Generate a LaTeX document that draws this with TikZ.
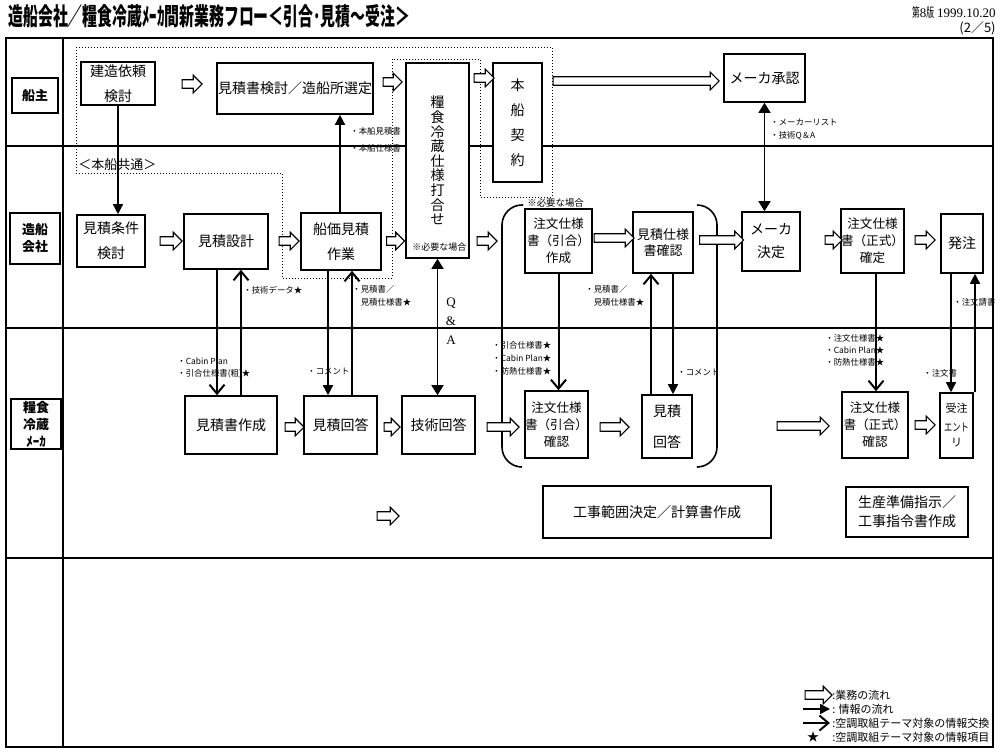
\documentclass[tikz,border=0pt]{standalone}
\usepackage{fontspec}
\setmainfont{Noto Sans CJK JP}
\newfontfamily\qafont{Liberation Serif}
\usetikzlibrary{arrows.meta,positioning,calc,shapes.arrows}
\tikzset{
  flowbox/.style={draw,line width=0.8pt,fill=white,align=center,inner sep=0pt,
    font=\fontsize{7}{10}\selectfont},
  lanebox/.style={draw,line width=0.8pt,fill=white,align=center,inner sep=0pt,
    font=\bfseries\fontsize{6.5}{8.5}\selectfont},
  flowarrow/.style={single arrow,draw,line width=0.6pt,fill=white,inner xsep=0pt,
    inner ysep=1.8pt,single arrow head extend=2.3pt},
  infoarrow/.style={line width=0.75pt,-{Triangle[length=5pt,width=5pt]}},
  infoboth/.style={line width=0.75pt,{Triangle[length=5pt,width=6pt]}-{Triangle[length=5pt,width=6pt]}},
  themearrow/.style={line width=1pt,-{Straight Barb[length=4.5pt,width=7.5pt]}},
  note/.style={anchor=west,align=left,inner sep=0pt,font=\fontsize{4.2}{6.5}\selectfont},
  lanerule/.style={line width=0.9pt}
}

\begin{document}
\begin{tikzpicture}[x=0.5pt,y=-0.5pt]
  \useasboundingbox (0,0) rectangle (1000,751);

  % heading
  \node[anchor=west,inner sep=0pt,font=\bfseries\fontsize{12.2}{14}\selectfont] (title) at (8,16)
    {\scalebox{0.61}[1]{造船会社／糧食冷蔵ﾒｰｶ間新業務フロー＜引合･見積～受注＞}};
  \node[anchor=east,inner sep=0pt,font=\fontsize{6.5}{8}\selectfont] (version) at (996,13)
    {\scalebox{0.6}[1]{第}{\qafont 8}\scalebox{0.6}[1]{版} {\qafont 1999.10.20}};
  \node[anchor=east,inner sep=0pt,font=\fontsize{6.5}{8}\selectfont] (page) at (996,28) {(2／5)};

  % lanes
  \draw[lanerule] (6,38) rectangle (993,747);
  \draw[lanerule] (63,38) -- (63,747);
  \draw[lanerule] (6,146) -- (993,146);
  \draw[lanerule] (6,328) -- (993,328);
  \draw[lanerule] (6,558) -- (993,558);
  \node[lanebox,minimum width=23pt,minimum height=17.5pt] (owner) at (35,95.5) {船主};
  \node[lanebox,minimum width=25pt,minimum height=25.5pt] (yard) at (35,238.5) {造船\\会社};
  \node[lanebox,minimum width=25pt,minimum height=25pt] (maker) at (36,424) {糧食\\冷蔵\\ﾒｰｶ};

  % common area and bracket
  \draw[densely dotted,line width=0.5pt] (76,47) -- (552,47) -- (552,197) -- (480,197)
    -- (480,59) -- (392,59) -- (392,278) -- (282,278) -- (282,173) -- (76,173) -- cycle;
  \node[note,font=\fontsize{6.5}{8}\selectfont] (common) at (78,165) {＜本船共通＞};
  \draw[line width=0.8pt,rounded corners=10pt] (523,205) -- (502,205) -- (502,467) -- (522,467);
  \draw[line width=0.8pt,rounded corners=10pt] (697,205) -- (717,205) -- (717,467) -- (698,467);

  % owner
  \node[flowbox,minimum width=37pt,minimum height=21.5pt] (kenzo) at (118,83.5) {建造依頼\\[2.5pt]検討};
  \node[flowbox,minimum width=78pt,minimum height=25.5pt] (mkentei) at (295,88.5) {見積書検討／造船所選定};
  \node[flowbox,minimum width=31.5pt,minimum height=97.5pt,font=\fontsize{7}{7.3}\selectfont] (uchiawase) at (437.5,160.5)
    {糧\\食\\冷\\蔵\\仕\\様\\打\\合\\せ};
  \node[flowbox,minimum width=24.5pt,minimum height=59.5pt,font=\fontsize{7}{12.5}\selectfont] (honsen) at (517.5,122.5)
    {本\\船\\契\\約};
  \node[flowbox,minimum width=40.5pt,minimum height=24pt] (shonin) at (764.5,78) {メーカ承認};

  % shipyard
  \node[flowbox,minimum width=34pt,minimum height=26pt] (joken) at (111,241) {見積条件\\[2.5pt]検討};
  \node[flowbox,minimum width=42pt,minimum height=27.5pt] (sekkei) at (226,241.5) {見積設計};
  \node[flowbox,minimum width=40pt,minimum height=28.5pt] (senka) at (341,241.5) {船価見積\\[2.5pt]作業};
  \node[flowbox,minimum width=33.5pt,minimum height=32pt,font=\fontsize{6.3}{8.5}\selectfont] (hsakusei) at (558.5,241)
    {注文仕様\\書（引合）\\作成};
  \node[flowbox,minimum width=30pt,minimum height=30.5pt,font=\fontsize{6.5}{8.3}\selectfont] (mkakunin) at (663,242.5)
    {見積仕様\\書確認};
  \node[flowbox,minimum width=29pt,minimum height=29.5pt] (kettei) at (771,241.5) {メーカ\\[1.5pt]決定};
  \node[flowbox,minimum width=30.5pt,minimum height=32pt,font=\fontsize{6.3}{8.5}\selectfont] (skakutei) at (872.5,241)
    {注文仕様\\書（正式）\\確定};
  \node[flowbox,minimum width=21pt,minimum height=29.5pt] (hatchu) at (962,243.5) {発注};

  % maker
  \node[flowbox,minimum width=46pt,minimum height=29pt] (msakusei) at (231,425) {見積書作成};
  \node[flowbox,minimum width=36.5pt,minimum height=29pt] (kaito) at (340.5,425) {見積回答};
  \node[flowbox,minimum width=36.5pt,minimum height=29pt] (gkaito) at (438.5,425) {技術回答};
  \node[flowbox,minimum width=30.5pt,minimum height=33.5pt,font=\fontsize{6.3}{8.5}\selectfont] (hkakunin) at (556.5,424.5)
    {注文仕様\\書（引合）\\確認};
  \node[flowbox,minimum width=25pt,minimum height=31.5pt] (mkaito) at (667,426.5) {見積\\[5.5pt]回答};
  \node[flowbox,minimum width=33pt,minimum height=33pt,font=\fontsize{6.3}{8.5}\selectfont] (skakunin) at (875,425)
    {注文仕様\\書（正式）\\確認};
  \node[flowbox,minimum width=16.5pt,minimum height=32.5pt,font=\fontsize{5.5}{7.5}\selectfont] (juchu) at (956.5,425.5)
    {受注\\[2pt]\scalebox{0.75}[1]{エント}\\リ};
  \node[flowbox,minimum width=114pt,minimum height=26pt] (koji) at (657,512) {工事範囲決定／計算書作成};
  \node[flowbox,minimum width=61pt,minimum height=25pt,font=\fontsize{7}{9.5}\selectfont] (seisan) at (907,512)
    {生産準備指示／\\工事指令書作成};

  % work flow
  \node[flowarrow,minimum height=10pt] (f1) at (190,84) {};
  \node[flowarrow,minimum height=9.5pt] (f2) at (390.5,82) {};
  \node[flowarrow,minimum height=10pt] (f3) at (482,78) {};
  \node[flowarrow,minimum height=83pt] (f4) at (634,81) {};
  \node[flowarrow,minimum height=11pt] (f5) at (169,241) {};
  \node[flowarrow,minimum height=10pt] (f6) at (287,241) {};
  \node[flowarrow,minimum height=9pt] (f7) at (393.5,241) {};
  \node[flowarrow,minimum height=10pt] (f8) at (485,241) {};
  \node[flowarrow,minimum height=20pt] (f9) at (612,238) {};
  \node[flowarrow,minimum height=22pt] (f10) at (719.5,240) {};
  \node[flowarrow,minimum height=8.5pt] (f11) at (831.5,240) {};
  \node[flowarrow,minimum height=10pt] (f12) at (923,240) {};
  \node[flowarrow,minimum height=9.5pt] (f13) at (292.5,427) {};
  \node[flowarrow,minimum height=8pt] (f14) at (390,427) {};
  \node[flowarrow,minimum height=16pt] (f15) at (501,427) {};
  \node[flowarrow,minimum height=14.5pt] (f16) at (612.5,427) {};
  \node[flowarrow,minimum height=26pt] (f17) at (801,426) {};
  \node[flowarrow,minimum height=10pt] (f18) at (923,425) {};
  \node[flowarrow,minimum height=11pt] (f19) at (386,516) {};

  % information flow
  \coordinate (x217) at (217,0);
  \coordinate (x241) at (241,0);
  \coordinate (x328) at (328,0);
  \coordinate (x340) at (340,0);
  \coordinate (x352) at (352,0);
  \coordinate (x651) at (651,0);
  \coordinate (x673) at (673,0);
  \coordinate (x876) at (876,0);
  \coordinate (x951) at (951,0);
  \coordinate (x975) at (975,0);
  \draw[infoarrow] (kenzo.south) -- (kenzo.south |- joken.north);
  \draw[themearrow] (sekkei.south -| x217) -- (msakusei.north -| x217);
  \draw[themearrow] (msakusei.north -| x241) -- (sekkei.south -| x241);
  \draw[infoarrow] (senka.north -| x340) -- (mkentei.south -| x340);
  \draw[infoarrow] (senka.south -| x328) -- (kaito.north -| x328);
  \draw[themearrow] (kaito.north -| x352) -- (senka.south -| x352);
  \draw[infoboth] (uchiawase.south) -- (uchiawase.south |- gkaito.north);
  \draw[infoboth] (shonin.south) -- (shonin.south |- kettei.north);
  \draw[themearrow] (hsakusei.south) -- (hsakusei.south |- hkakunin.north);
  \draw[themearrow] (mkaito.north -| x651) -- (mkakunin.south -| x651);
  \draw[infoarrow] (mkakunin.south -| x673) -- (mkaito.north -| x673);
  \draw[themearrow] (skakutei.south -| x876) -- (skakunin.north -| x876);
  \draw[infoarrow] (hatchu.south -| x951) -- (juchu.north -| x951);
  \draw[infoarrow] (juchu.north -| x975) -- (hatchu.south -| x975);

  % items
  \node[note] (n1) at (770,129.5) {・メーカーリスト\\・技術Q＆A};
  \node[note,font=\fontsize{4.2}{8.5}\selectfont] (n2) at (350,139.5) {・本船見積書\\・本船仕様書};
  \node[note] (n3) at (243,290) {・技術データ★};
  \node[note] (n4) at (352,296) {・見積書／\\\hphantom{・}見積仕様書★};
  \node[note] (n5) at (585,296) {・見積書／\\\hphantom{・}見積仕様書★};
  \node[note,font=\fontsize{4.2}{6}\selectfont] (n6) at (177,368) {・Cabin Plan\\・引合仕様書(粗)★};
  \node[note] (n7) at (307,371) {・コメント};
  \node[note] (n8) at (492,358) {・引合仕様書★\\・Cabin Plan★\\・防熱仕様書★};
  \node[note] (n9) at (677,372) {・コメント};
  \node[note,font=\fontsize{4.2}{6}\selectfont] (n10) at (825,350) {・注文仕様書★\\・Cabin Plan★\\・防熱仕様書★};
  \node[note] (n11) at (923,373) {・注文書};
  \node[note] (n12) at (953,302) {・注文請書};
  \node[note,font=\fontsize{4.7}{6}\selectfont] (n13) at (527,203) {※必要な場合};
  \node[note,font=\fontsize{4.5}{6}\selectfont] (n14) at (412,247) {※必要な場合};
  \node[align=center,inner sep=0pt,font=\qafont\fontsize{6.5}{9.5}\selectfont] (qa) at (451,321) {Q\\\&\\A};

  % legend
  \node[flowarrow,minimum height=13.5pt] (lg1) at (816.5,695) {};
  \coordinate (lg2a) at (803,709);
  \coordinate (lg2b) at (830,709);
  \coordinate (lg3a) at (803,723);
  \coordinate (lg3b) at (830,723);
  \draw[infoarrow] (lg2a) -- (lg2b);
  \draw[themearrow] (lg3a) -- (lg3b);
  \node[inner sep=0pt,font=\fontsize{6}{7}\selectfont] (lg4) at (813,737) {★};
  \node[note,font=\fontsize{5.5}{7}\selectfont] (lt1) at (832,695) {:業務の流れ};
  \node[note,font=\fontsize{5.5}{7}\selectfont] (lt2) at (832,709) {: 情報の流れ};
  \node[note,font=\fontsize{5.5}{7}\selectfont] (lt3) at (832,723) {:空調取組テーマ対象の情報交換};
  \node[note,font=\fontsize{5.5}{7}\selectfont] (lt4) at (832,737) {:空調取組テーマ対象の情報項目};
\end{tikzpicture}
\end{document}
